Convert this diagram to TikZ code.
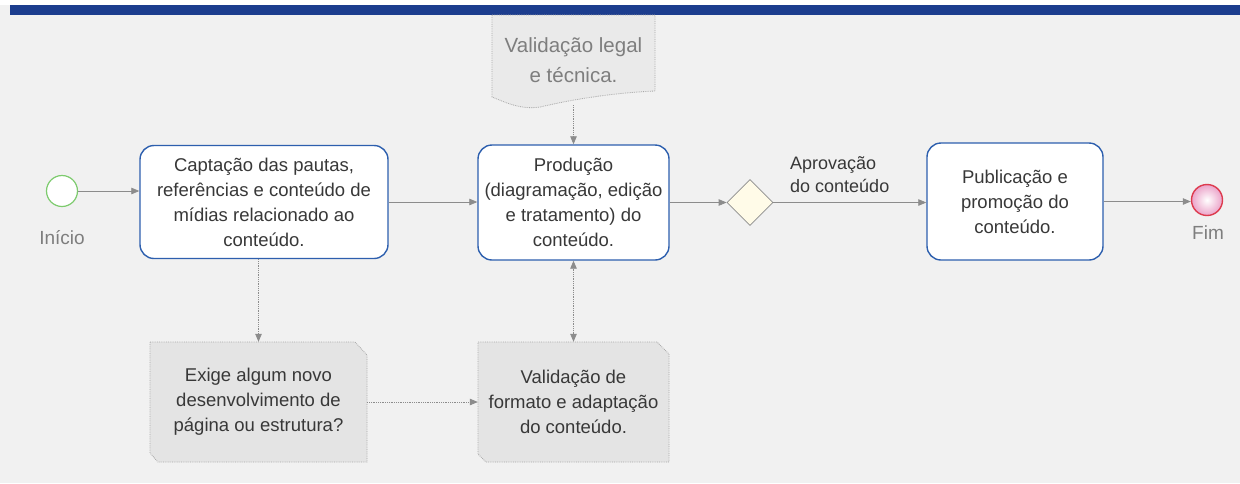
\documentclass[tikz,border=0pt]{standalone}
\usepackage{fontspec}
\setmainfont{Liberation Sans}
\usetikzlibrary{arrows.meta,shapes.geometric}
\definecolor{bgc}{HTML}{F1F1F1}
\definecolor{barblue}{HTML}{1C3D8E}
\definecolor{boxblue}{HTML}{2D5FAE}
\definecolor{txt}{HTML}{383838}
\definecolor{lbl}{HTML}{7E7E7E}
\definecolor{conn}{HTML}{8C8C8C}
\definecolor{dotb}{HTML}{A8A8A8}
\definecolor{lowfill}{HTML}{E4E4E4}
\definecolor{topfill}{HTML}{EAEAEA}
\definecolor{gwfill}{HTML}{FFFBE8}
\definecolor{startg}{HTML}{7DCB6E}
\definecolor{endr}{HTML}{DD3B4E}
\definecolor{endp}{HTML}{EBA3C9}
\tikzset{
  txtfont/.style={font=\fontsize{18.5}{25}\selectfont},
  task/.style={draw=boxblue, line width=1.4pt, fill=white, rounded corners=14pt,
    align=center, text=txt, txtfont, inner sep=0pt},
  anchorbox/.style={align=center, text=txt, txtfont, inner sep=0pt},
  artifact/.style={draw=dotb, densely dotted, line width=0.8pt, fill=lowfill},
  flow/.style={draw=conn, line width=0.8pt, -{Triangle[length=8pt,width=6.5pt]}},
  dflow/.style={draw=conn, line width=0.8pt, densely dotted, -{Triangle[length=8pt,width=6.5pt]}},
  ddflow/.style={draw=conn, line width=0.8pt, densely dotted, {Triangle[length=8pt,width=6.5pt]}-{Triangle[length=8pt,width=6.5pt]}},
  evlabel/.style={text=lbl, font=\fontsize{19}{22}\selectfont, inner sep=0pt}
}
\begin{document}
\begin{tikzpicture}[x=1pt,y=-1pt]
\useasboundingbox (0,0) rectangle (1240,483);
\fill[bgc] (0,0) rectangle (1240,483);
\fill[white] (0,0) rectangle (1240,5);
% top bar
\fill[barblue] (10,5) rectangle (1240,15);

% top document artifact: Validacao legal
\draw[draw=dotb, densely dotted, line width=0.8pt, fill=topfill]
  (492,15) -- (655,15) -- (655,91)
  .. controls (610,93) and (570,100) .. (540,107)
  .. controls (520,110) and (505,102) .. (492,97) -- cycle;
\node[anchorbox, text=lbl, font=\fontsize{20.5}{30}\selectfont,
  minimum width=163pt, minimum height=91pt] (vl) at (573.5,60.5)
  {\raisebox{0pt}{Validação legal}\\e técnica.};

% lower artifacts (shapes)
\draw[artifact] (150,342) -- (355,342) -- (367,355) -- (367,462) -- (158,462) -- (150,453) -- cycle;
\draw[artifact] (478,342) -- (657,342) -- (669,354) -- (669,462) -- (486,462) -- (478,454) -- cycle;

% events
\node[circle, draw=startg, line width=1.2pt, fill=white, minimum size=31pt, inner sep=0pt] (start) at (62,191) {};
\node[evlabel] (startlbl) at (62,238) {Início};
\node[circle, draw=endr, line width=1.4pt, inner color=white, outer color=endp, minimum size=31pt, inner sep=0pt] (end) at (1207,200) {};
\node[evlabel] (endlbl) at (1208,233) {Fim};

% tasks
\node[task, minimum width=248pt, minimum height=113pt] (b1) at (264,202)
  {Captação das pautas,\\referências e conteúdo de\\mídias relacionado ao\\conteúdo.};
\node[task, minimum width=191pt, minimum height=115pt] (b2) at (573.5,202.5)
  {Produção\\(diagramação, edição\\e tratamento) do\\conteúdo.};
\node[task, minimum width=176pt, minimum height=117pt] (b3) at (1015,201.5)
  {Publicação e\\promoção do\\conteúdo.};

% gateway
\node[diamond, aspect=1, draw=conn, line width=0.8pt, fill=gwfill, minimum width=46pt, minimum height=46pt, inner sep=0pt] (gw) at (750,202.5) {};
\node[anchor=west, align=left, text=txt, font=\fontsize{18}{23}\selectfont, inner sep=0pt] (aprov) at (790,174.5)
  {Aprovação\\do conteúdo};

% lower artifact text anchors
\node[anchorbox, minimum width=217pt, minimum height=120pt] (ex) at (258.5,402)
  {Exige algum novo\\desenvolvimento de\\página ou estrutura?};
\node[anchorbox, minimum width=191pt, minimum height=120pt] (fm) at (573.5,402)
  {Validação de\\formato e adaptação\\do conteúdo.};

% connectors
\draw[flow] (start.east) -- (start.east -| b1.west);
\draw[flow] (b1.east) -- (b1.east -| b2.west);
\draw[flow] (b2.east) -- (gw.west);
\draw[flow] (gw.east) -- (gw.east -| b3.west);
\draw[flow] (b3.east) -- (b3.east -| end.west);
\draw[dflow] (vl.south |- 0,105) -- (b2.north);
\draw[dflow] (b1.south -| ex.north) -- (ex.north);
\draw[dflow] (ex.east) -- (fm.west);
\draw[ddflow] (b2.south) -- (fm.north);
\end{tikzpicture}
\end{document}
